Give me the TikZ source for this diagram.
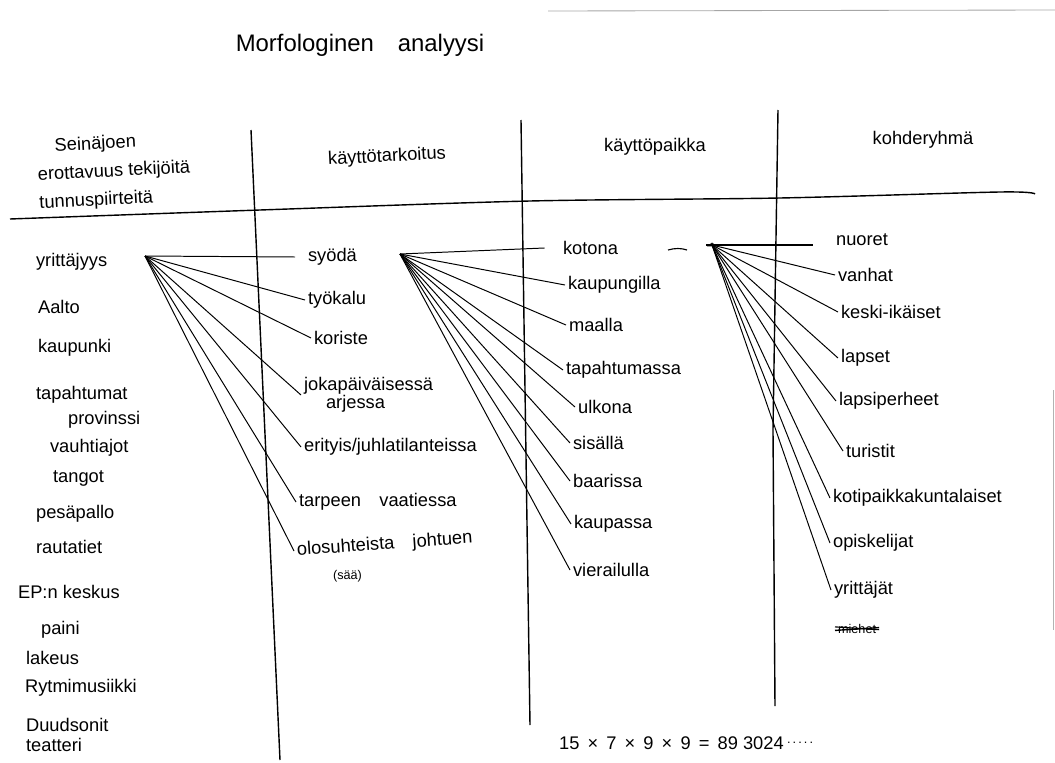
\documentclass[tikz,border=0pt]{standalone}
\usepackage{fontspec}
\setmainfont{Liberation Sans}
\usetikzlibrary{positioning}

\begin{document}
\begin{tikzpicture}[x=0.025cm, y=-0.025cm,
    item/.style={anchor=west, inner sep=2pt, font=\fontsize{13}{15}\selectfont},
    head/.style={font=\fontsize{13}{17}\selectfont},
    fan/.style={line width=0.7pt},
    rule/.style={line width=1pt}]
\useasboundingbox (0,0) rectangle (1055,763);
%paper edges
\draw[gray!70, line width=0.6pt] (548,11) -- (1055,10);
\draw[gray!60, line width=0.6pt] (1053,390) -- (1053,630);
%title
\node[font=\fontsize{17}{20}\selectfont] (title) at (360,45) {Morfologinen\quad analyysi};
%headers
\node[head, align=left, anchor=west, rotate=3] (h1) at (33,176) {\hspace*{1em}Seinäjoen\\[3pt]erottavuus tekijöitä\\[3pt]tunnuspiirteitä};
\node[head, rotate=3] (h2) at (387,157) {käyttötarkoitus};
\node[head] (h3) at (655,147) {käyttöpaikka};
\node[head] (h4) at (923,140) {kohderyhmä};
%table lines
\draw[rule] plot[smooth] coordinates {(10,219) (260,210) (530,201) (780,198) (1000,192) (1035,194)};
\draw[rule] (251,130) -- (280,760);
\draw[rule] (521,120) -- (530,725);
\draw[rule] (778,110) -- (773,430) -- (775,706);
%column 1
\node[item] (yrittajyys) at (33,262) {yrittäjyys};
\node[item] (aalto) at (35,307) {Aalto};
\node[item] (kaupunki) at (35,348) {kaupunki};
\node[item] (tapahtumat) at (33,395) {tapahtumat};
\node[item] (provinssi) at (65,420) {provinssi};
\node[item] (vauhtiajot) at (47,448) {vauhtiajot};
\node[item] (tangot) at (50,478) {tangot};
\node[item] (pesapallo) at (33,514) {pesäpallo};
\node[item] (rautatiet) at (33,547) {rautatiet};
\node[item] (epn) at (15,592) {EP:n keskus};
\node[item] (paini) at (38,630) {paini};
\node[item] (lakeus) at (23,658) {lakeus};
\node[item] (rytmi) at (22,688) {Rytmimusiikki};
\node[item] (duudsonit) at (23,725) {Duudsonit};
\node[item] (teatteri) at (23,745) {teatteri};
%column 2
\node[item] (syoda) at (305,257) {syödä};
\node[item] (tyokalu) at (305,300) {työkalu};
\node[item] (koriste) at (311,338) {koriste};
\node[item, align=left, font=\fontsize{13}{12}\selectfont] (joka) at (301,395) {jokapäiväisessä\\\hspace*{1.2em}arjessa};
\node[item] (erityis) at (301,447) {erityis/juhlatilanteissa};
\node[item] (tarpeen) at (296,502) {tarpeen\quad vaatiessa};
\node[item, rotate=4] (olo) at (294,551) {olosuhteista\quad johtuen};
\node[item, font=\fontsize{9}{10}\selectfont] (saa) at (330,576) {(sää)};
%column 3
\node[item] (kotona) at (560,248) {kotona};
\node[item] (kaupungilla) at (565,285) {kaupungilla};
\node[item] (maalla) at (566,325) {maalla};
\node[item] (tapahtumassa) at (563,370) {tapahtumassa};
\node[item] (ulkona) at (575,407) {ulkona};
\node[item] (sisalla) at (570,443) {sisällä};
\node[item] (baarissa) at (570,481) {baarissa};
\node[item] (kaupassa) at (571,524) {kaupassa};
\node[item] (vierailulla) at (570,570) {vierailulla};
%column 4
\node[item] (nuoret) at (833,240) {nuoret};
\node[item] (vanhat) at (835,275) {vanhat};
\node[item] (keski) at (838,312) {keski-ikäiset};
\node[item] (lapset) at (838,358) {lapset};
\node[item] (lapsiperheet) at (836,401) {lapsiperheet};
\node[item] (turistit) at (843,451) {turistit};
\node[item] (kotipaikka) at (830,498) {kotipaikkakuntalaiset};
\node[item] (opiskelijat) at (830,543) {opiskelijat};
\node[item] (yrittajat) at (831,590) {yrittäjät};
\node[item, font=\fontsize{9}{10}\selectfont] (miehet) at (835,629) {miehet};
\draw[line width=1pt] ([yshift=-1pt]miehet.west) -- ([yshift=1pt]miehet.east);
\draw[line width=0.8pt] ([yshift=1.5pt]miehet.west) -- ([yshift=-0.5pt]miehet.east);
%fan points
\coordinate (yrfan) at (145,256);
\coordinate (syfan) at (400,254);
\coordinate (kofan) at (712,245);
\draw[line width=0.5pt] (708,246) -- (712,243) -- (716,246) -- cycle;
\draw[line width=0.8pt] (668,250) .. controls (675,248) and (681,248) .. (687,250);
%connectors
\draw[fan] (yrfan) -- ([xshift=-7pt]syoda.west);
\foreach \t in {tyokalu,koriste,joka,erityis,tarpeen,olo}
  \draw[fan] (yrfan) -- (\t.west);
\draw[fan] (syfan) -- ([xshift=-11pt]kotona.west);
\foreach \t in {kaupungilla,maalla,tapahtumassa,ulkona,sisalla,baarissa,kaupassa,vierailulla}
  \draw[fan] (syfan) -- (\t.west);
\draw[fan, line width=1pt] ([xshift=-4pt]kofan) -- ([xshift=-14pt]nuoret.west |- kofan);
\foreach \t in {vanhat,keski,lapset,lapsiperheet,turistit,kotipaikka,opiskelijat,yrittajat}
  \draw[fan] (kofan) -- (\t.west);
%count
\node[item] (count) at (556,743) {15 \,×\, 7 \,×\, 9 \,×\, 9 \,=\, 89 3024};
\node[anchor=west, inner sep=0pt, font=\fontsize{9}{10}\selectfont] (dots) at (count.east) {.\,.\,.\,.\,.};
\end{tikzpicture}
\end{document}
